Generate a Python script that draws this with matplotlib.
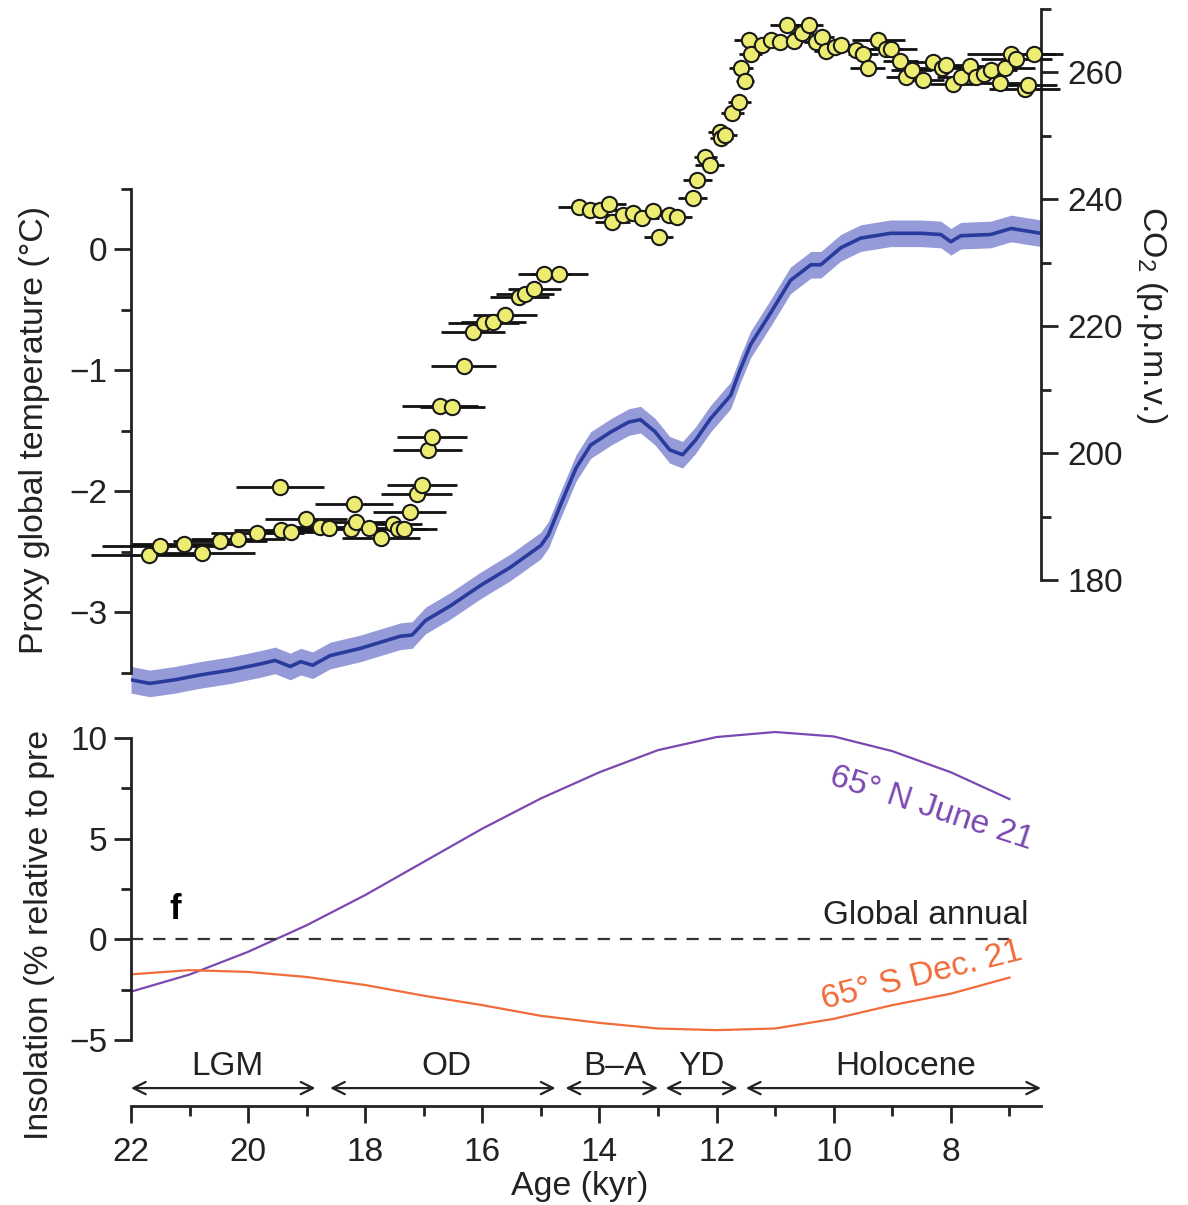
import matplotlib
matplotlib.use("Agg")
import matplotlib.pyplot as plt
import numpy as np
from matplotlib.ticker import FixedLocator

plt.rcParams["font.family"] = ["Liberation Sans", "DejaVu Sans"]
plt.rcParams["mathtext.fontset"] = "custom"
plt.rcParams["mathtext.rm"] = "Liberation Sans"
plt.rcParams["mathtext.it"] = "Liberation Sans:italic"

# proxy global temperature stack (deg C) with 1-sigma band
temp_age = [22.0, 21.68, 21.25, 20.82, 20.3, 19.8, 19.54, 19.28, 19.1, 18.9, 18.6,
            18.08, 17.4, 17.2, 16.97, 16.55, 16.03, 15.52, 15.0, 14.87, 14.67, 14.4,
            14.15, 13.8, 13.5, 13.3, 13.05, 12.8, 12.58, 12.36, 12.1, 11.76, 11.6,
            11.42, 11.08, 10.74, 10.39, 10.22, 9.88, 9.54, 9.03, 8.51, 8.17, 8.0,
            7.83, 7.32, 6.97, 6.46]
temp_val = [-3.56, -3.59, -3.56, -3.52, -3.48, -3.43, -3.40, -3.45, -3.41, -3.44, -3.36,
            -3.30, -3.20, -3.19, -3.07, -2.95, -2.78, -2.63, -2.45, -2.36, -2.12, -1.81,
            -1.62, -1.51, -1.43, -1.41, -1.51, -1.66, -1.70, -1.58, -1.40, -1.21, -1.0,
            -0.79, -0.53, -0.26, -0.13, -0.13, 0.01, 0.09, 0.13, 0.13, 0.12, 0.06,
            0.11, 0.12, 0.17, 0.13]
temp_err = 0.11

# Antarctic CO2 (p.p.m.v.) with age uncertainty (kyr)
co2_age = [21.69, 21.50, 21.09, 20.78, 20.48, 20.17, 19.84, 19.46, 19.44, 19.26, 19.01,
           18.77, 18.62, 18.24, 18.19, 18.15, 17.93, 17.73, 17.53, 17.44, 17.33, 17.24,
           17.12, 17.03, 16.93, 16.86, 16.72, 16.51, 16.32, 16.16, 15.98, 15.81, 15.61,
           15.37, 15.27, 15.11, 14.94, 14.69, 14.35, 14.16, 13.99, 13.84, 13.78, 13.59,
           13.42, 13.28, 13.09, 12.99, 12.82, 12.67, 12.41, 12.33, 12.19, 12.12, 11.95,
           11.92, 11.85, 11.73, 11.61, 11.58, 11.51, 11.45, 11.42, 11.23, 11.07, 10.91,
           10.79, 10.68, 10.54, 10.43, 10.30, 10.20, 10.14, 9.98, 9.88, 9.62, 9.50,
           9.42, 9.24, 9.11, 9.02, 8.86, 8.76, 8.67, 8.47, 8.31, 8.15, 8.09, 7.96,
           7.83, 7.67, 7.57, 7.44, 7.32, 7.16, 7.07, 6.97, 6.88, 6.74, 6.68, 6.58]
co2_ppm = [183.9, 185.4, 185.7, 184.3, 186.1, 186.5, 187.4, 194.6, 187.9, 187.6, 189.6,
           188.3, 188.2, 188.0, 192.0, 189.2, 188.2, 186.6, 188.8, 188.0, 188.1, 190.7,
           193.5, 195.0, 200.4, 202.6, 207.4, 207.2, 213.7, 219.1, 220.5, 220.7, 221.7,
           224.6, 225.1, 225.9, 228.2, 228.2, 238.8, 238.3, 238.3, 239.2, 236.4, 237.5,
           237.8, 237.0, 238.2, 234.0, 237.5, 237.2, 240.1, 243.0, 246.6, 245.4, 250.6,
           249.6, 250.1, 253.6, 255.3, 260.6, 258.6, 265.0, 262.9, 264.3, 265.0, 264.8,
           267.4, 264.9, 266.1, 267.4, 264.8, 265.6, 263.4, 264.0, 264.3, 263.5, 262.9,
           260.6, 265.1, 263.7, 263.6, 261.8, 259.2, 260.3, 258.7, 261.6, 260.6, 261.1, 258.1,
           259.3, 260.9, 259.2, 259.7, 260.3, 258.3, 260.6, 262.9, 262.1, 257.4, 258.0, 262.8]
co2_err = [1.0, 1.0, 0.9, 0.9, 0.8, 0.8, 0.8, 0.75, 0.8, 0.7, 0.7,
           0.7, 0.7, 0.6, 0.67, 0.6, 0.6, 0.67, 0.5, 0.5, 0.55, 0.62,
           0.61, 0.59, 0.59, 0.59, 0.65, 0.55, 0.56, 0.55, 0.6, 0.55, 0.55,
           0.5, 0.5, 0.45, 0.45, 0.5, 0.35, 0.3, 0.3, 0.3, 0.3, 0.3,
           0.25, 0.3, 0.25, 0.25, 0.25, 0.25, 0.25, 0.25, 0.2, 0.25, 0.2,
           0.2, 0.2, 0.2, 0.2, 0.2, 0.15, 0.25, 0.2, 0.2, 0.2, 0.2,
           0.3, 0.2, 0.2, 0.25, 0.2, 0.2, 0.2, 0.2, 0.2, 0.2, 0.25,
           0.3, 0.45, 0.3, 0.45, 0.3, 0.35, 0.35, 0.35, 0.35, 0.4, 0.35, 0.4,
           0.4, 0.4, 0.4, 0.45, 0.45, 0.5, 0.5, 0.75, 0.6, 0.6, 0.5, 0.5]

# insolation anomalies (% relative to present)
ins_age = [22, 21, 20, 19, 18, 17, 16, 15, 14, 13, 12, 11, 10, 9, 8, 7]
ins_n65_june = [-2.6, -1.75, -0.62, 0.7, 2.2, 3.85, 5.5, 7.0, 8.3, 9.4, 10.05, 10.3,
                10.08, 9.35, 8.3, 6.97]
ins_s65_dec = [-1.74, -1.53, -1.62, -1.87, -2.27, -2.8, -3.27, -3.8, -4.15, -4.43,
               -4.51, -4.43, -3.95, -3.27, -2.7, -1.9]
ins_global = [0.0, 0.0]
ins_global_age = [22.0, 7.0]

# climate periods: name, start, end, label position
period_names = ["LGM", "OD", "B\u2013A", "YD", "Holocene"]
period_start = [22.0, 18.6, 14.58, 12.87, 11.5]
period_end = [18.85, 14.75, 13.0, 11.64, 6.46]
period_label_x = [20.35, 16.62, 13.74, 12.26, 8.78]

INK = "#222222"
FS = 24
W, H = 1188, 1205


def box(x0, y0, x1, y1):
    return [x0 / W, 1 - y1 / H, (x1 - x0) / W, (y1 - y0) / H]


fig = plt.figure(figsize=(W / 100, H / 100), dpi=100)
ax_t = fig.add_axes(box(131, 8, 1041, 700))
ax_c = ax_t.twinx()
ax_i = fig.add_axes(box(131, 700, 1041, 1106))
for ax in (ax_t, ax_c, ax_i):
    ax.patch.set_visible(False)
    ax.set_xlim(22, 6.46)
    for side in ("top", "right", "left", "bottom"):
        ax.spines[side].set_visible(False)
        ax.spines[side].set_linewidth(2.0)
        ax.spines[side].set_color(INK)
    ax.tick_params(which="both", direction="out", width=2.0, colors=INK,
                   labelsize=FS)
    ax.tick_params(which="major", length=12)
    ax.tick_params(which="minor", length=7)

# --- top panel: temperature ---
t_age = np.array(temp_age)
t_val = np.array(temp_val)
ax_t.fill_between(t_age, t_val - temp_err, t_val + temp_err, color="#959ad8",
                  lw=0, zorder=1)
ax_t.plot(t_age, t_val, color="#2a3b9e", lw=2.6, zorder=2)
ax_t.set_ylim(-3.727, 1.992)
ax_t.spines["left"].set_visible(True)
ax_t.spines["left"].set_bounds(-3.5, 0.5)
ax_t.yaxis.set_major_locator(FixedLocator([-3, -2, -1, 0]))
ax_t.yaxis.set_minor_locator(FixedLocator([-3.5, -2.5, -1.5, -0.5, 0.5]))
ax_t.tick_params(axis="y", pad=5)
ax_t.set_xticks([])

# CO2 on the right
ax_c.set_ylim(161.1, 270.1)
ax_c.spines["right"].set_visible(True)
ax_c.spines["right"].set_bounds(180, 270)
ax_c.yaxis.set_major_locator(FixedLocator([180, 200, 220, 240, 260]))
ax_c.yaxis.set_minor_locator(FixedLocator([190, 210, 230, 250, 270]))
ax_c.tick_params(axis="y", pad=7)
ax_c.set_xticks([])
eb = ax_c.errorbar(co2_age, co2_ppm, xerr=co2_err, fmt="o", ms=11,
                   mfc="#ecec72", mec="#1a1a1a", mew=1.5, ecolor="#111111",
                   elinewidth=2.0, capsize=0, zorder=3)
for art in eb.get_children():
    art.set_clip_on(False)

# --- bottom panel: insolation ---
ax_i.plot(ins_age, ins_n65_june, color="#7a48b0", lw=1.6)
ax_i.plot(ins_age, ins_s65_dec, color="#f26b3a", lw=1.6)
ax_i.plot(ins_global_age, ins_global, color="#333333", lw=1.6,
          linestyle=(0, (5.5, 4.5)))
ax_i.set_ylim(-8.28, 11.89)
ax_i.spines["left"].set_visible(True)
ax_i.spines["left"].set_bounds(-5, 10)
ax_i.spines["bottom"].set_visible(True)
ax_i.yaxis.set_major_locator(FixedLocator([-5, 0, 5, 10]))
ax_i.yaxis.set_minor_locator(FixedLocator([-2.5, 2.5, 7.5]))
ax_i.xaxis.set_major_locator(FixedLocator(list(range(22, 7, -2))))
ax_i.xaxis.set_minor_locator(FixedLocator(list(range(21, 6, -2))))
ax_i.tick_params(axis="y", pad=5)
ax_i.tick_params(axis="x", pad=10)

ax_i.text(8.34, 6.5, "65\u00b0 N June 21", color="#7a48b0", fontsize=FS,
          rotation=-18, ha="center", va="center")
ax_i.text(8.5, -1.8, "65\u00b0 S Dec. 21", color="#f26b3a", fontsize=FS,
          rotation=14, ha="center", va="center")
ax_i.text(6.67, 1.2, "Global annual", color=INK, fontsize=FS,
          ha="right", va="center")
ax_i.text(21.25, 1.5, "f", color="black", fontsize=25, fontweight="bold",
          ha="center", va="center")

for name, a0, a1, lx in zip(period_names, period_start, period_end, period_label_x):
    ax_i.annotate("", xy=(a1, -7.39), xytext=(a0, -7.39),
                  arrowprops=dict(arrowstyle="<->", lw=1.6, color=INK,
                                  shrinkA=0, shrinkB=0, mutation_scale=22))
    ax_i.text(lx, -6.3, name, color=INK, fontsize=FS, ha="center", va="center")

# axis titles
fig.text(35 / W, 1 - 430 / H, "Proxy global temperature (\u00b0C)", rotation=90,
         ha="center", va="center", fontsize=24.4, color=INK)
fig.text(1152 / W, 1 - 315 / H, "CO$_2$ (p.p.m.v.)", rotation=-90,
         ha="center", va="center", fontsize=24.4, color=INK)
fig.text(40 / W, 1 - 1140 / H, "Insolation (% relative to pre", rotation=90,
         ha="center", va="bottom", fontsize=24.4, color=INK)
fig.text(580 / W, 1 - 1202 / H, "Age (kyr)", ha="center", va="bottom",
         fontsize=24.4, color=INK)

fig.savefig("out.png", dpi=100)
